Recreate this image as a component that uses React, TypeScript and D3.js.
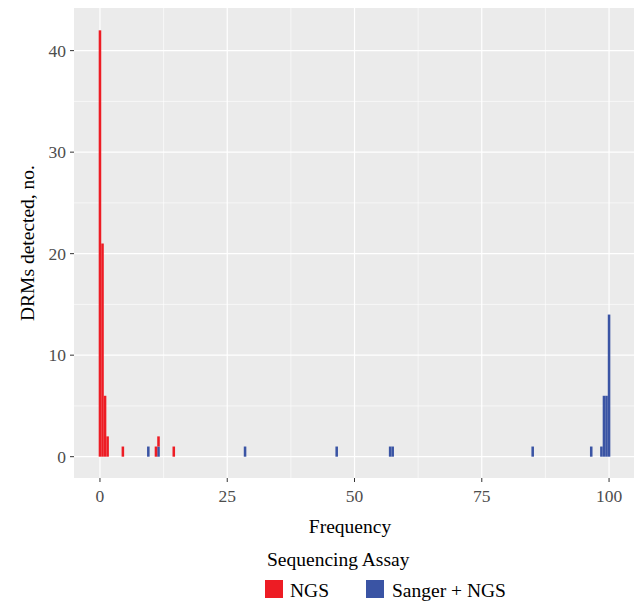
import * as d3 from "d3";

// histogram bins (centre of 0.5-wide bin) and counts per assay
const ngsFreq = [0, 0.5, 1, 1.5, 4.5, 11, 11.5, 14.5];
const ngsCount = [42, 21, 6, 2, 1, 1, 1, 1];
const sangerFreq = [9.5, 11.5, 28.5, 46.5, 57, 57.5, 85, 96.5, 98.5, 99, 99.5, 100];
const sangerCount = [1, 1, 1, 1, 1, 1, 1, 1, 1, 6, 6, 14];

const xTicks = [0, 25, 50, 75, 100];
const xMinor = [12.5, 37.5, 62.5, 87.5];
const yTicks = [0, 10, 20, 30, 40];
const yMinor = [5, 15, 25, 35];

const binWidth = 0.5;
const RED = "#ED1C24";
const BLUE = "#3A54A4";
const FONT = "'Liberation Serif', 'DejaVu Serif', serif";

export default function App() {
  const W = 638;
  const H = 602;
  const panel = { left: 74, right: 634, top: 8, bottom: 478 };

  const x = d3.scaleLinear().domain([-5.1, 104.9]).range([panel.left, panel.right]);
  const y = d3.scaleLinear().domain([-2.1, 44.2]).range([panel.bottom, panel.top]);

  // stacking: Sanger + NGS at the bottom, NGS on top
  const sangerBars = sangerFreq.map((f, i) => ({ f, y0: 0, y1: sangerCount[i] }));
  const ngsBars = ngsFreq.map((f, i) => {
    const j = sangerFreq.indexOf(f);
    const base = j >= 0 ? sangerCount[j] : 0;
    return { f, y0: base, y1: base + ngsCount[i] };
  });

  const barRect = (d: { f: number; y0: number; y1: number }, fill: string, key: string) => (
    <rect
      key={key}
      x={x(d.f - binWidth / 2)}
      width={x(d.f + binWidth / 2) - x(d.f - binWidth / 2)}
      y={y(d.y1)}
      height={y(d.y0) - y(d.y1)}
      fill={fill}
    />
  );

  return (
    <svg width={W} height={H} style={{ position: "absolute", left: 0, top: 0, background: "#fff" }}>
      <rect
        x={panel.left}
        y={panel.top}
        width={panel.right - panel.left}
        height={panel.bottom - panel.top}
        fill="#EBEBEB"
      />
      {/* minor grid */}
      {xMinor.map((t) => (
        <line key={"xm" + t} x1={x(t)} x2={x(t)} y1={panel.top} y2={panel.bottom} stroke="#fff" strokeWidth={0.6} />
      ))}
      {yMinor.map((t) => (
        <line key={"ym" + t} x1={panel.left} x2={panel.right} y1={y(t)} y2={y(t)} stroke="#fff" strokeWidth={0.6} />
      ))}
      {/* major grid */}
      {xTicks.map((t) => (
        <line key={"xg" + t} x1={x(t)} x2={x(t)} y1={panel.top} y2={panel.bottom} stroke="#fff" strokeWidth={1.2} />
      ))}
      {yTicks.map((t) => (
        <line key={"yg" + t} x1={panel.left} x2={panel.right} y1={y(t)} y2={y(t)} stroke="#fff" strokeWidth={1.2} />
      ))}

      {sangerBars.map((d, i) => barRect(d, BLUE, "s" + i))}
      {ngsBars.map((d, i) => barRect(d, RED, "n" + i))}

      {/* axes ticks and labels */}
      {xTicks.map((t) => (
        <g key={"xt" + t}>
          <line x1={x(t)} x2={x(t)} y1={panel.bottom} y2={panel.bottom + 4} stroke="#333" strokeWidth={1} />
          <text x={x(t)} y={panel.bottom + 24} textAnchor="middle" fontFamily={FONT} fontSize={17.5} fill="#4D4D4D">
            {t}
          </text>
        </g>
      ))}
      {yTicks.map((t) => (
        <g key={"yt" + t}>
          <line x1={panel.left - 4} x2={panel.left} y1={y(t)} y2={y(t)} stroke="#333" strokeWidth={1} />
          <text x={panel.left - 8} y={y(t) + 6} textAnchor="end" fontFamily={FONT} fontSize={17.5} fill="#4D4D4D">
            {t}
          </text>
        </g>
      ))}

      <text x={(panel.left + panel.right) / 2 - 4} y={533} textAnchor="middle" fontFamily={FONT} fontSize={19.5} fill="#000">
        Frequency
      </text>
      <text
        transform={`translate(34, ${(panel.top + panel.bottom) / 2}) rotate(-90)`}
        textAnchor="middle"
        fontFamily={FONT}
        fontSize={19.5}
        fill="#000"
      >
        DRMs detected, no.
      </text>

      {/* legend */}
      <text x={267} y={566} fontFamily={FONT} fontSize={19.5} fill="#000">
        Sequencing Assay
      </text>
      <rect x={265} y={580} width={18} height={18} fill={RED} />
      <text x={290} y={597} fontFamily={FONT} fontSize={19.5} fill="#000">
        NGS
      </text>
      <rect x={366} y={580} width={18} height={18} fill={BLUE} />
      <text x={392} y={597} fontFamily={FONT} fontSize={19.5} fill="#000">
        Sanger + NGS
      </text>
    </svg>
  );
}
